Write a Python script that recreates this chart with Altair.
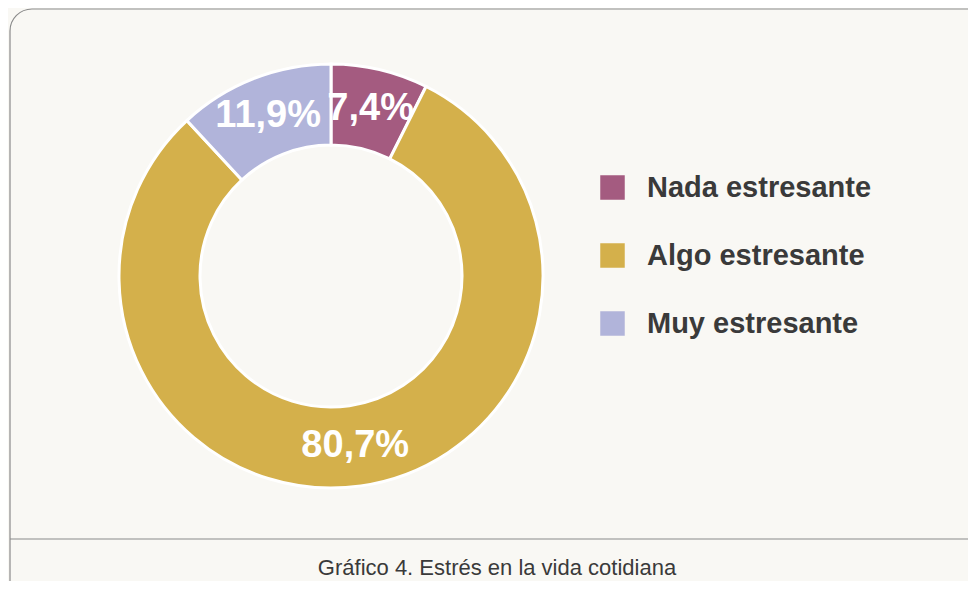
import altair as alt
import pandas as pd

categories = ["Nada estresante", "Algo estresante", "Muy estresante"]
values = [7.4, 80.7, 11.9]
labels = ["7,4%", "80,7%", "11,9%"]
colors = ["#a45b80", "#d4b04b", "#b1b4da"]
caption = "Gráfico 4. Estrés en la vida cotidiana"

df = pd.DataFrame({"cat": categories, "val": values, "lab": labels, "ord": [0, 1, 2]})

W, H = 960, 573
CX, CY = 323, 266
BG = "#f9f8f4"

box = alt.Chart(pd.DataFrame({"a": [0]})).mark_rect(
    fill=BG, stroke="#8a8a8a", strokeWidth=1.2, cornerRadius=22
).encode(x=alt.value(2), x2=alt.value(1000), y=alt.value(-1), y2=alt.value(620))

line = alt.Chart(pd.DataFrame({"a": [0]})).mark_rule(
    color="#8a8a8a", strokeWidth=1.2
).encode(x=alt.value(2), x2=alt.value(1000), y=alt.value(529))

cap = alt.Chart(pd.DataFrame({"t": [caption]})).mark_text(
    font="Liberation Sans", fontSize=22, color="#3a3a3a", align="center", baseline="middle"
).encode(text="t:N", x=alt.value(489), y=alt.value(558))

base = alt.Chart(df).encode(
    theta=alt.Theta("val:Q", stack=True),
    order=alt.Order("ord:Q"),
)

arcs = base.mark_arc(
    outerRadius=212, innerRadius=131, stroke="white", strokeWidth=3
).encode(
    color=alt.Color(
        "cat:N",
        scale=alt.Scale(domain=categories, range=colors),
        sort=categories,
        legend=alt.Legend(
            title=None,
            orient="none",
            legendX=590,
            legendY=163,
            symbolType="square",
            symbolSize=600,
            symbolStrokeWidth=0,
            labelFont="Liberation Sans",
            labelFontWeight="bold",
            labelFontSize=29,
            labelColor="#3a3a3a",
            labelOffset=20,
            rowPadding=38,
            labelLimit=400,
        ),
    ),
    x=alt.value(CX),
    y=alt.value(CY),
)

texts = base.mark_text(
    radius=172, font="Liberation Sans", fontWeight="bold", fontSize=38, color="white",
    align="center", baseline="middle"
).encode(text="lab:N", x=alt.value(CX), y=alt.value(CY))

chart = alt.layer(box, line, cap, arcs, texts).properties(
    width=W, height=H, background=BG,
    autosize=alt.AutoSizeParams(type="fit", contains="padding"),
    padding=0,
).configure_view(stroke=None)

chart.save("out.html", embed_options={"renderer": "svg", "actions": False})
